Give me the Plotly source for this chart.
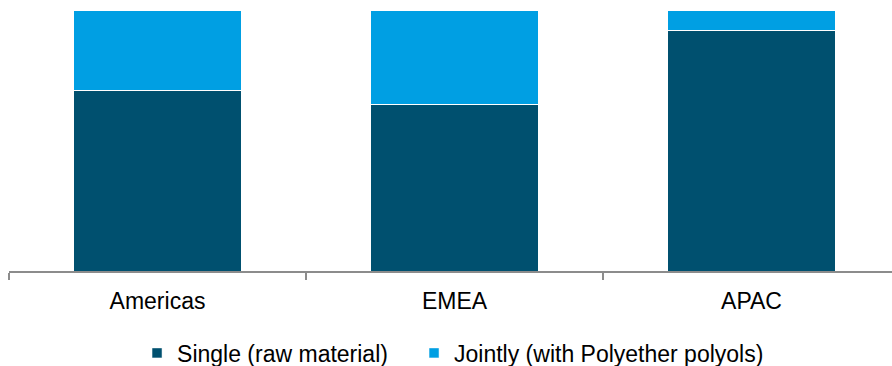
import plotly.graph_objects as go

regions = ["Americas", "EMEA", "APAC"]
single_raw = [69.2, 63.8, 92.0]
jointly_polyols = [30.8, 36.2, 8.0]

series_names = ["Single (raw material)", "Jointly (with Polyether polyols)"]
dark_blue = "#00506F"
light_blue = "#009FE3"

fig = go.Figure()
fig.add_trace(go.Bar(
    x=regions, y=single_raw, name=series_names[0], showlegend=False,
    marker=dict(color=dark_blue, line=dict(color="white", width=1)),
    width=0.565,
))
fig.add_trace(go.Bar(
    x=regions, y=jointly_polyols, name=series_names[1], showlegend=False,
    marker=dict(color=light_blue, line=dict(color="white", width=1)),
    width=0.565,
))

# legend entries with small square swatches, one legend box per series
for nm, col, lg in zip(series_names, [dark_blue, light_blue], ["legend", "legend2"]):
    fig.add_trace(go.Scatter(
        x=[None], y=[None], mode="markers", name=nm, legend=lg,
        marker=dict(symbol="square", size=10, color=col,
                    line=dict(color="white", width=0.5)),
    ))

legend_style = dict(
    orientation="h", xanchor="left", y=-0.314, yanchor="middle",
    font=dict(size=23), itemsizing="trace", bgcolor="rgba(0,0,0,0)",
)

fig.update_layout(
    width=892, height=366,
    margin=dict(l=9, r=0, t=10, b=95, autoexpand=False),
    barmode="stack",
    plot_bgcolor="white", paper_bgcolor="white",
    font=dict(family="Liberation Sans, Arial, sans-serif", size=23, color="#000000"),
    showlegend=True,
    legend=dict(x=0.145, **legend_style),
    legend2=dict(x=0.4587, **legend_style),
    xaxis=dict(
        range=[-0.5, 2.473], showline=True, linecolor="#8C8C8C", linewidth=1.5,
        ticks="outside", tickson="boundaries", ticklen=7, tickcolor="#8C8C8C",
        tickwidth=1.5, showgrid=False, zeroline=False, fixedrange=True,
        tickfont=dict(size=23), ticklabelstandoff=9,
    ),
    yaxis=dict(
        range=[0, 100], visible=False, showgrid=False, zeroline=False,
    ),
)

fig.write_html("out.html")
